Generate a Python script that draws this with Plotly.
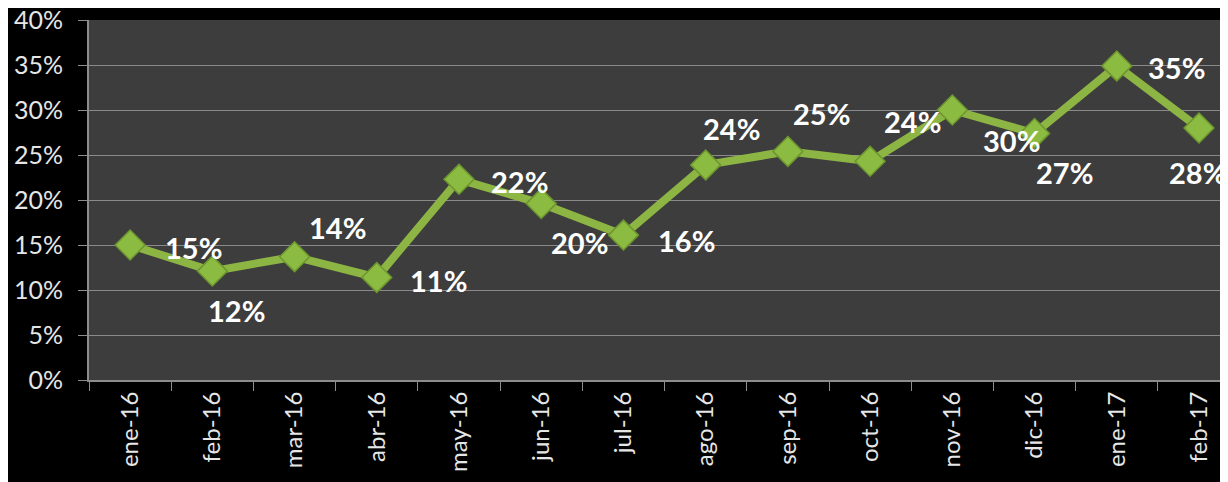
import plotly.graph_objects as go

months = ["ene-16", "feb-16", "mar-16", "abr-16", "may-16", "jun-16", "jul-16",
          "ago-16", "sep-16", "oct-16", "nov-16", "dic-16", "ene-17", "feb-17"]
values = [15.0, 12.1, 13.7, 11.4, 22.3, 19.6, 16.1, 23.9, 25.4, 24.3, 30.0, 27.4, 34.9, 28.0]
labels = [15, 12, 14, 11, 22, 20, 16, 24, 25, 24, 30, 27, 35, 28]
y_ticks = [0, 5, 10, 15, 20, 25, 30, 35, 40]

# label offsets (pixels) relative to each marker
label_dx = [63, 24, 43, 62, 60, 38, 63, 26, 34, 42, 59, 30, 60, -2]
label_dy = [-2, -39, 29, -3, -2, -39, -5, 36, 38, 40, -30, -39, -2, -44]

fig = go.Figure()
fig.add_trace(go.Scatter(
    x=months, y=values, mode="lines+markers",
    line=dict(color="#8DB544", width=8),
    marker=dict(symbol="diamond", size=23, color="#8CBB42",
                line=dict(color="#6C962E", width=1.5)),
    hoverinfo="skip", showlegend=False,
))

for m, v, lab, dx, dy in zip(months, values, labels, label_dx, label_dy):
    fig.add_annotation(x=m, y=v, text=f"{lab}%", showarrow=False,
                       xshift=dx, yshift=dy,
                       font=dict(family="Lato", size=29, color="white", weight="bold"))

fig.update_layout(
    width=1228, height=482,
    margin=dict(l=81, r=0, t=12, b=110, autoexpand=False),
    paper_bgcolor="black",
    plot_bgcolor="#3D3D3D",
    font=dict(family="Lato", color="#E6E6E6"),
    xaxis=dict(
        type="category", categoryorder="array", categoryarray=months,
        range=[-0.5, 13.45], tickson="boundaries",
        ticks="outside", ticklen=9, tickcolor="#8C8C8C",
        showline=True, linecolor="#8C8C8C", linewidth=2,
        showgrid=False, tickangle=-90, automargin=False,
        tickfont=dict(size=24, color="#E6E6E6"),
        fixedrange=True,
    ),
    yaxis=dict(
        range=[0, 40], tickmode="array", tickvals=y_ticks,
        ticktext=[f"{t}%" for t in y_ticks],
        ticks="outside", ticklen=9, tickcolor="#8C8C8C",
        ticklabelstandoff=10, ticklabeloverflow="allow", automargin=False,
        showline=True, linecolor="#8C8C8C", linewidth=2,
        showgrid=True, gridcolor="#8A8A8A", gridwidth=1,
        zeroline=False,
        tickfont=dict(size=25, color="#E6E6E6"),
        fixedrange=True,
    ),
)

fig.write_html("out.html")
